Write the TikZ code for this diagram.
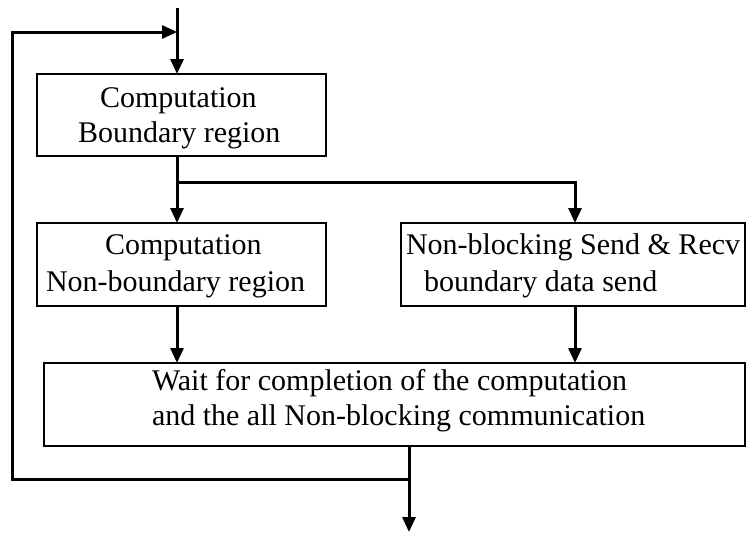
\documentclass[tikz,border=0pt]{standalone}
\usepackage{fontspec}
\setmainfont{Liberation Serif}
\usetikzlibrary{arrows.meta}
\begin{document}
\begin{tikzpicture}[x=1pt,y=-1pt,
  box/.style={draw,line width=1.5pt,rectangle,inner sep=0pt,outer sep=0pt,anchor=north west},
  txt/.style={anchor=base west,inner sep=0pt,outer sep=0pt,font=\fontsize{30}{36}\selectfont},
  conn/.style={line width=3pt,-{Triangle[length=15pt,width=13pt]}},
  plain/.style={line width=3pt}]
\useasboundingbox (0,0) rectangle (746,533);
% boxes
\node[box,minimum width=289pt,minimum height=82pt] (b1) at (37,74) {};
\node[box,minimum width=289pt,minimum height=83pt] (b2) at (37,223) {};
\node[box,minimum width=344pt,minimum height=83pt] (b3) at (401,223) {};
\node[box,minimum width=701pt,minimum height=83pt] (b4) at (44,363) {};
% texts
\node[txt] (t1a) at (100,107) {Computation};
\node[txt] (t1b) at (78,142) {Boundary region};
\node[txt] (t2a) at (105,254) {Computation};
\node[txt] (t2b) at (46,291) {Non-boundary region};
\node[txt] (t3a) at (406,254) {Non-blocking Send \& Recv};
\node[txt] (t3b) at (424,291) {boundary data send};
\node[txt] (t4a) at (152,390) {Wait for completion of the computation};
\node[txt] (t4b) at (152,425) {and the all Non-blocking communication};
% junction coordinates
\coordinate (top) at (177,8);
\coordinate (j1) at (177,182);
\coordinate (j3) at (575,182);
\coordinate (j2) at (409,479);
\coordinate (lb) at (12,479);
\coordinate (lt) at (12,32);
\coordinate (lr) at (177,32);
\coordinate (out) at (409,532);
% connectors
\draw[conn] (top) -- (top |- b1.north);
\draw[plain] (j1 |- b1.south) -- (j1);
\draw[conn] (j1) -- (j1 |- b2.north);
\draw[conn] (j1) -- (j3) -- (j3 |- b3.north);
\draw[conn] (j1 |- b2.south) -- (j1 |- b4.north);
\draw[conn] (j3 |- b3.south) -- (j3 |- b4.north);
\draw[conn] (j2 |- b4.south) -- (out);
\draw[conn] (j2) -- (lb) -- (lt) -- (lr);
\end{tikzpicture}
\end{document}
